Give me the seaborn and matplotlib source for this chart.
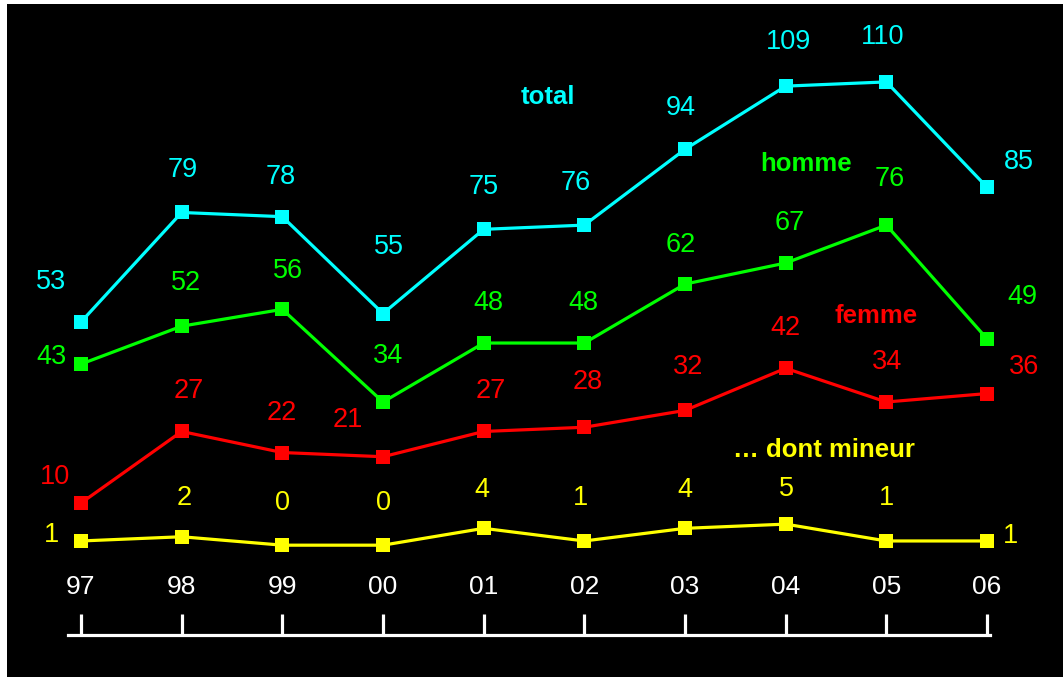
import matplotlib
matplotlib.use("Agg")
import matplotlib.pyplot as plt
import seaborn as sns
import pandas as pd

# donnees
annees = ["97", "98", "99", "00", "01", "02", "03", "04", "05", "06"]
total = [53, 79, 78, 55, 75, 76, 94, 109, 110, 85]
homme = [43, 52, 56, 34, 48, 48, 62, 67, 76, 49]
femme = [10, 27, 22, 21, 27, 28, 32, 42, 34, 36]
mineur = [1, 2, 0, 0, 4, 1, 4, 5, 1, 1]

series = ["total", "homme", "femme", "... dont mineur"]
couleurs = ["#00FFFF", "#00FF00", "#FF0000", "#FFFF00"]

# decalage des etiquettes (pixels, x droite / y haut)
decal = {
    "total": [(-30, 40), (1, 42), (-2, 40), (6, 67), (0, 42), (-9, 42), (-4, 41), (3, 44), (-4, 45), (32, 25)],
    "homme": [(-29, 7), (4, 43), (6, 38), (5, 46), (5, 40), (-1, 40), (-4, 39), (4, 40), (3, 46), (35, 42)],
    "femme": [(-26, 26), (7, 40), (-1, 40), (-35, 37), (7, 40), (3, 45), (3, 43), (0, 40), (1, 40), (37, 27)],
    "... dont mineur": [(-29, 6), (3, 39), (0, 42), (1, 42), (-2, 38), (-4, 43), (0, 38), (1, 35), (0, 43), (24, 5)],
}
# position des noms de series (x en categorie, y en valeur)
noms_pos = {"total": (4.64, 106.4), "homme": (7.2, 90.5), "femme": (7.9, 54.4), "... dont mineur": (7.38, 22.6)}

valeurs = dict(zip(series, [total, homme, femme, mineur]))
df = pd.DataFrame([
    {"x": i, "annee": a, "serie": s, "valeur": v}
    for s in series for i, (a, v) in enumerate(zip(annees, valeurs[s]))
])

sns.set_theme(style="white")
plt.rcParams["font.family"] = ["Liberation Sans", "DejaVu Sans"]

fig = plt.figure(figsize=(10.63, 6.77), dpi=100, facecolor="white")
ax = fig.add_axes([7 / 1063, 0, 1056 / 1063, 673 / 677])
ax.set_facecolor("black")

sns.lineplot(data=df, x="x", y="valeur", hue="serie", hue_order=series,
             palette=couleurs, marker="s", markersize=9.5, markeredgewidth=0,
             linewidth=2.3, legend=False, ax=ax)

for s, c in zip(series, couleurs):
    for i, v in enumerate(valeurs[s]):
        dx, dy = decal[s][i]
        ax.annotate(str(v), (i, v), xytext=(dx, dy), textcoords="offset pixels",
                    ha="center", va="center", color=c, fontsize=19.5)
    nx, ny = noms_pos[s]
    ax.text(nx, ny, s.replace("...", "\u2026"), color=c, fontsize=18.5,
            fontweight="bold", ha="center", va="center")

ax.set_xlim(-0.735, 9.755)
ax.set_ylim(-31.3, 128.5)

for sp in ["left", "right", "bottom"]:
    ax.spines[sp].set_visible(False)
ax.spines["top"].set_position(("axes", 0.0624))
ax.spines["top"].set_color("white")
ax.spines["top"].set_linewidth(2.3)
ax.spines["top"].set_bounds(-0.13, 9.03)
ax.xaxis.tick_top()
ax.set_xticks(range(len(annees)))
ax.set_xticklabels(annees)
ax.tick_params(axis="x", which="both", direction="out", length=15, width=2.3,
               color="white", labelcolor="white", labelsize=19, pad=11,
               top=True, bottom=False)
ax.set_yticks([])
ax.set_xlabel("")
ax.set_ylabel("")

fig.savefig("out.png", dpi=100, facecolor="white")
